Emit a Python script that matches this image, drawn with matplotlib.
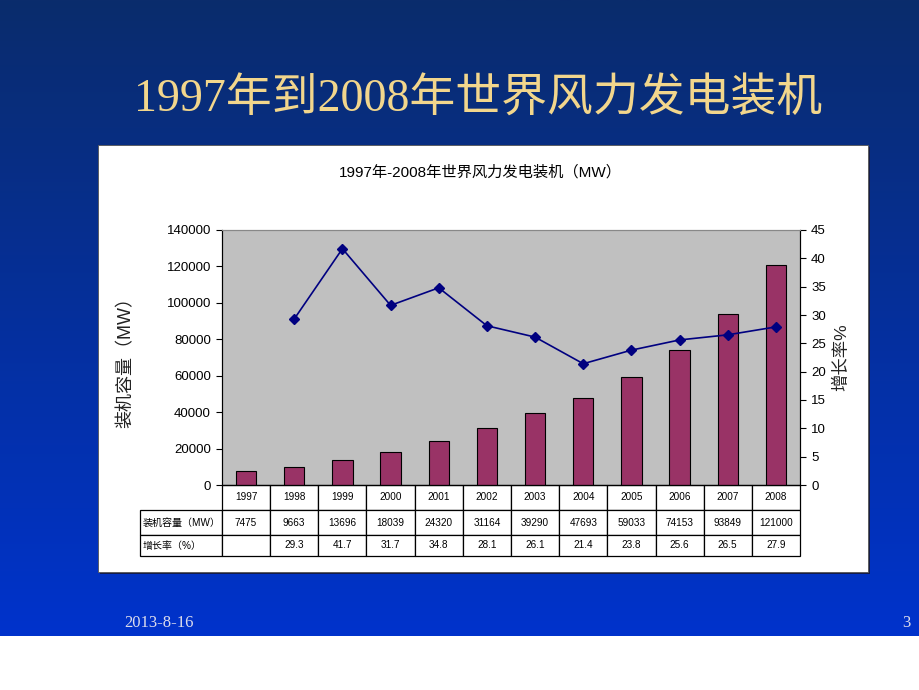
import numpy as np
import matplotlib.pyplot as plt
from matplotlib.patches import Rectangle
from matplotlib.table import Table

plt.rcParams['font.family'] = ['Liberation Sans', 'Noto Sans CJK SC']

years = ['1997', '1998', '1999', '2000', '2001', '2002',
         '2003', '2004', '2005', '2006', '2007', '2008']
capacity = [7475, 9663, 13696, 18039, 24320, 31164,
            39290, 47693, 59033, 74153, 93849, 121000]
growth = [np.nan, 29.3, 41.7, 31.7, 34.8, 28.1,
          26.1, 21.4, 23.8, 25.6, 26.5, 27.9]
row_labels = ['装机容量（MW）', '增长率（%）']

W, H = 920, 690
fig = plt.figure(figsize=(9.2, 6.9), dpi=100)
fig.patch.set_facecolor('white')


def fx(px):
    return px / W


def fy(py):
    return 1 - py / H


# slide background (blue gradient, white strip at the bottom)
bg = fig.add_axes([0, fy(636), 1, 636 / H], zorder=-10)
top = np.array([0x0a, 0x2c, 0x6c]) / 255
bot = np.array([0x00, 0x33, 0xcc]) / 255
t = np.linspace(0, 1, 256)[:, None]
grad = top * (1 - t) + bot * t
bg.imshow(grad[:, None, :], aspect='auto', extent=[0, 1, 0, 1])
bg.axis('off')

# white chart box with shadow
fig.add_artist(Rectangle((fx(100), fy(574)), fx(770), 427 / H, transform=fig.transFigure,
                         facecolor='#141c48', edgecolor='none', zorder=-6))
fig.add_artist(Rectangle((fx(98), fy(572)), fx(770), 427 / H, transform=fig.transFigure,
                         facecolor='white', edgecolor='#555555', lw=0.6, zorder=-5))

fig.text(0.52, fy(100), '1997年到2008年世界风力发电装机', ha='center', va='center',
         fontsize=33, color='#f2d68c', family=['Liberation Serif', 'Noto Sans CJK SC'])
fig.text(fx(480), fy(172), '1997年-2008年世界风力发电装机（MW）', ha='center', va='center',
         fontsize=11, color='black')
fig.text(fx(159), fy(623), '2013-8-16', ha='center', va='center', fontsize=12,
         color='#dcdcec', family='Liberation Serif')
fig.text(fx(910), fy(623), '3', ha='right', va='center', fontsize=12,
         color='#dcdcec', family='Liberation Serif')

# main plot
ax = fig.add_axes([fx(222), fy(485), fx(800) - fx(222), (485 - 230) / H])
ax.set_facecolor('#c0c0c0')
x = np.arange(len(years))
ax.bar(x, capacity, width=0.42, color='#993366', edgecolor='black', linewidth=0.8, zorder=2)
ax.set_xlim(-0.5, len(years) - 0.5)
ax.set_ylim(0, 140000)
ax.set_yticks(np.arange(0, 140001, 20000))
ax.tick_params(axis='x', bottom=False, labelbottom=False)
ax.tick_params(axis='y', direction='out', length=4, labelsize=9.5, pad=4)
ax.set_ylabel('装机容量（MW）', fontsize=13, color='#222222')
ax.yaxis.set_label_coords(-0.152, 0.5)
for s in ['left', 'bottom']:
    ax.spines[s].set_color('black')
ax.spines['top'].set_color('#888888')

ax2 = ax.twinx()
ax2.plot(x, growth, color='#000080', lw=1.2, marker='D', ms=5.5)
ax2.set_ylim(0, 45)
ax2.set_yticks(range(0, 46, 5))
ax2.tick_params(axis='y', direction='out', length=4, labelsize=9.5, pad=4)
ax2.set_ylabel('增长率%', fontsize=12.5, color='#222222', rotation=90)
ax2.yaxis.set_label_coords(1.058, 0.5)
ax2.spines['right'].set_color('black')
ax2.spines['top'].set_color('#888888')

# data table below the plot (row labels sit left of the bbox)
lab_w = 82 / 578
hs = [25 / 255, 25 / 255, 21 / 255]
tab_h = sum(hs)
cw = 1 / len(years)
tb = Table(ax, bbox=[0, -tab_h, 1, tab_h])
for j, yr in enumerate(years):
    g = '' if np.isnan(growth[j]) else f'{growth[j]}'
    tb.add_cell(0, j, cw, hs[0], text=yr, loc='center')
    tb.add_cell(1, j, cw, hs[1], text=str(capacity[j]), loc='center')
    tb.add_cell(2, j, cw, hs[2], text=g, loc='center')
tb.add_cell(1, -1, lab_w, hs[1], text=row_labels[0], loc='left')
tb.add_cell(2, -1, lab_w, hs[2], text=row_labels[1], loc='left')
tb.auto_set_font_size(False)
tb.set_fontsize(7.2)
for (r, c), cell in tb.get_celld().items():
    cell.set_edgecolor('black')
    cell.set_linewidth(0.9)
    cell.set_facecolor('white')
    if c == -1:
        cell.PAD = 0.03
ax.add_table(tb)

fig.savefig('out.png', dpi=100)
